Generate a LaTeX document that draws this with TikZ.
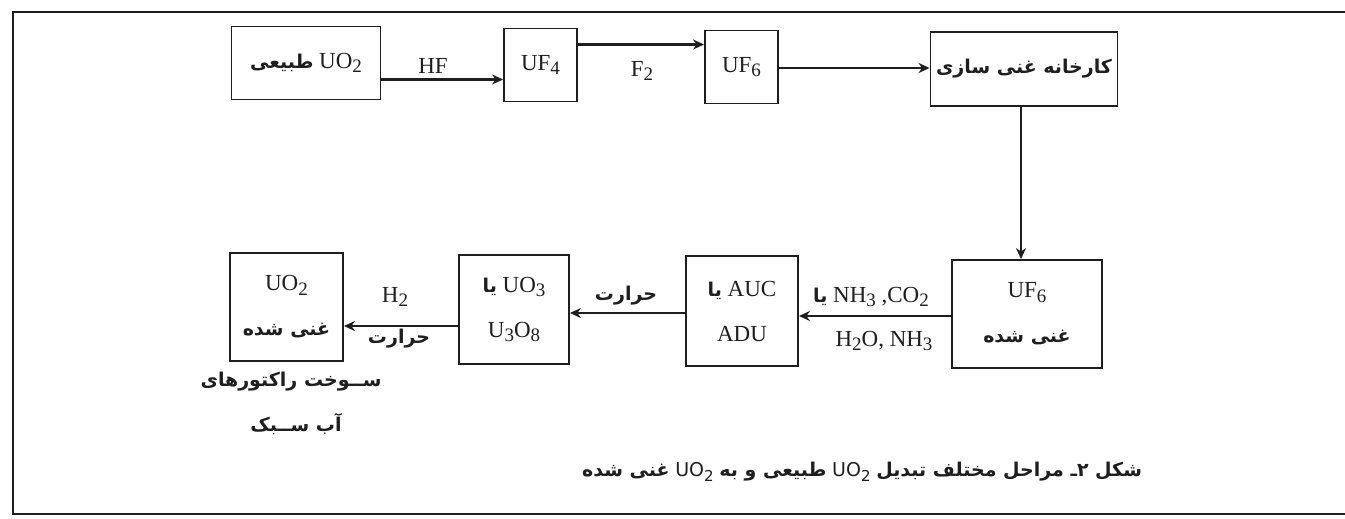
\documentclass[tikz,border=0pt]{standalone}
\usepackage{fontspec}
\setmainfont{Liberation Serif}
\newfontfamily\fa[Script=Arabic]{DejaVu Sans}
\TeXXeTstate=1
\usetikzlibrary{arrows.meta}
\definecolor{ink}{HTML}{1E1E1E}
\newcommand\ssub[1]{\raisebox{-0.45ex}{\fontsize{19}{19}\selectfont #1}}
\newcommand\fat[1]{{\fa\bfseries\fontsize{19}{22}\selectfont\beginR #1\endR}}
\newcommand\capfat[1]{{\fa\bfseries\fontsize{19}{22}\selectfont\beginR #1\endR}}
\newcommand\capuo{{\fa\fontsize{19}{22}\selectfont UO\raisebox{-0.45ex}{\fontsize{15}{15}\selectfont 2}}}
\tikzset{
  box/.style={draw=ink, line width=1.9pt, inner sep=0pt, align=center,
    font=\fontsize{23}{45}\selectfont, text=ink},
  arr/.style={draw=ink, line width=2.2pt, -{Stealth[length=11pt,width=10pt]}},
  thinarr/.style={draw=ink, line width=1.6pt, -{Stealth[length=11pt,width=10pt]}},
  lbl/.style={font=\fontsize{23}{26}\selectfont, inner sep=0pt, text=ink},
  frame/.style={draw=ink, line width=1.5pt}
}
\begin{document}
\begin{tikzpicture}[x=1pt,y=-1pt]
\useasboundingbox (0,0) rectangle (1345,519);
\fill[white] (0,0) rectangle (1345,519);
\draw[frame] (1345,12) -- (13,12) -- (13,514) -- (1345,514);

% top row
\node[box, minimum width=149pt, minimum height=73pt] (b1) at (306,63) {\fat{طبیعی} UO\ssub{2}};
\node[box, minimum width=73pt, minimum height=73pt] (b2) at (540.5,65) {UF\ssub{4}};
\node[box, minimum width=73pt, minimum height=73pt] (b3) at (741.5,67) {UF\ssub{6}};
\node[box, minimum width=187pt, minimum height=74pt] (b4) at (1024,69) {\fat{کارخانه غنی سازی}};

% bottom row
\node[box, minimum width=150pt, minimum height=108pt] (b5) at (1027,314) {UF\ssub{6}\\\fat{غنی شده}};
\node[box, minimum width=112pt, minimum height=110pt] (b6) at (742,311) {\fat{یا} AUC\\ADU};
\node[box, minimum width=110pt, minimum height=109pt] (b7) at (514,309.5) {\fat{یا} UO\ssub{3}\\U\ssub{3}O\ssub{8}};
\node[box, minimum width=113pt, minimum height=108pt] (b8) at (286.5,307) {UO\ssub{2}\\\fat{غنی شده}};

% connectors
\draw[arr] (b1.east |- 0,79.5) -- (b2.west |- 0,79.5);
\draw[arr] (b2.east |- 0,44.5) -- (b3.west |- 0,44.5);
\draw[arr] (b3.east |- 0,68) -- (b4.west |- 0,68);
\draw[thinarr] (b4.south -| 1021,0) -- (b5.north -| 1021,0);
\draw[arr] (b5.west |- 0,316) -- (b6.east |- 0,316);
\draw[arr] (b6.west |- 0,313) -- (b7.east |- 0,313);
\draw[arr] (b7.west |- 0,326) -- (b8.east |- 0,326);

% labels
\node[lbl] (lhf) at (433,66) {HF};
\node[lbl] (lf2) at (642,71) {F\ssub{2}};
\node[lbl] (lco) at (871,297) {\fat{یا} NH\ssub{3} ,CO\ssub{2}};
\node[lbl] (lh2o) at (884,341) {H\ssub{2}O, NH\ssub{3}};
\node[lbl] (lheat1) at (626,296) {\fat{حرارت}};
\node[lbl] (lh2) at (395,297) {H\ssub{2}};
\node[lbl] (lheat2) at (399,339) {\fat{حرارت}};
\node[lbl] (lfuel1) at (291,382) {\fat{ســوخت راکتورهای}};
\node[lbl] (lfuel2) at (296,424) {\fat{آب ســبک}};
\node[lbl] (cap) at (862,472) {\capfat{غنی شده} \capuo{} \capfat{طبیعی و به} \capuo{} \capfat{شکل ۲ـ مراحل مختلف تبدیل}};
\end{tikzpicture}
\end{document}
